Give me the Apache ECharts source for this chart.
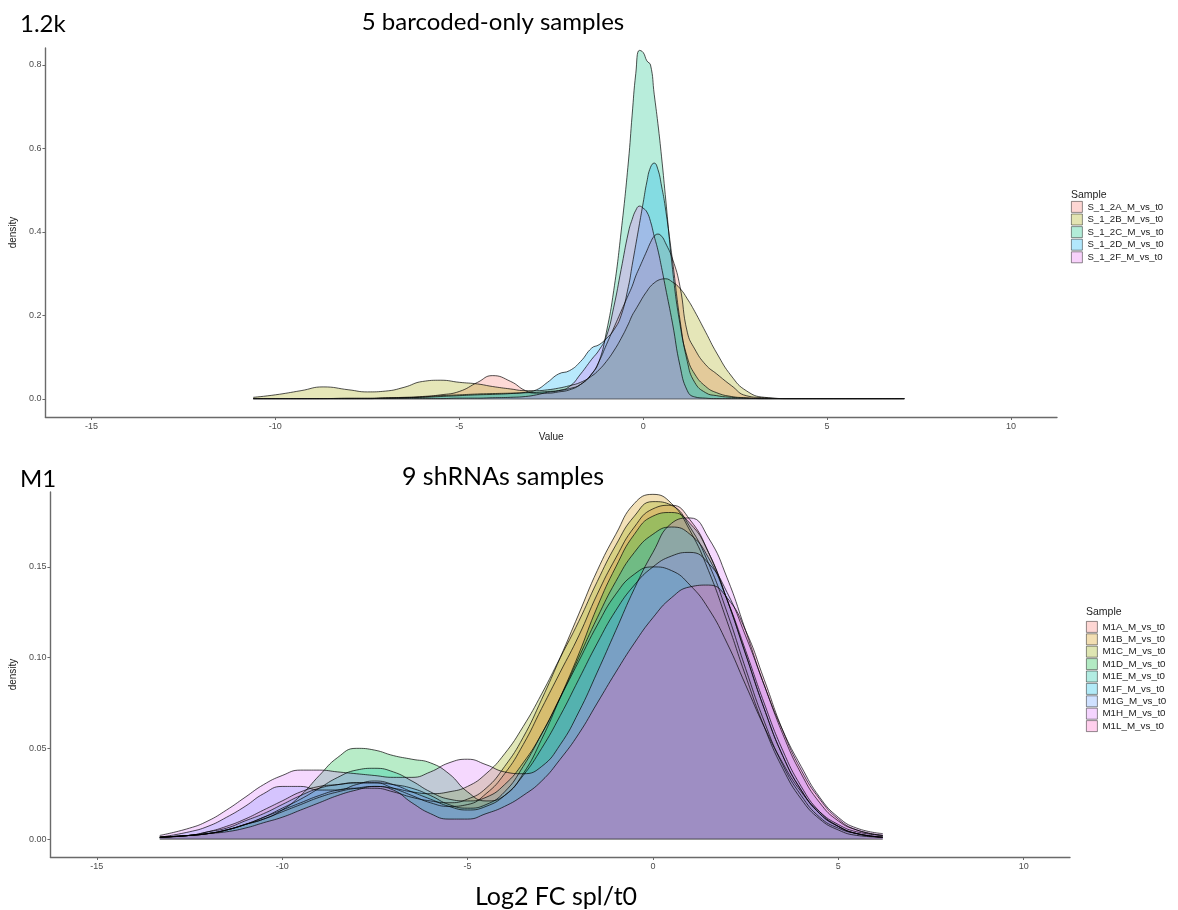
<!DOCTYPE html>
<html>
<head>
<meta charset="utf-8">
<script src="https://cdn.jsdelivr.net/npm/echarts@6/dist/echarts.min.js"></script>
<style>
  html, body { margin: 0; padding: 0; background: #fff; }
  #chart { width: 1178px; height: 910px; }
</style>
</head>
<body>
<div id="chart"></div>
<script>
// ---- Upper panel: 5 barcoded-only samples (density of log2 fold change) ----
const xTop = [-10.6, -10, -9.3, -8.7, -8, -7.5, -7, -6.5, -6, -5.5,
  -5, -4.5, -4.1, -3.6, -3.2, -2.9, -2.6, -2.3, -2, -1.7,
  -1.4, -1.2, -1, -0.8, -0.6, -0.4, -0.3, -0.2, -0.1, 0,
  0.1, 0.2, 0.3, 0.4, 0.5, 0.6, 0.8, 1, 1.2, 1.4,
  1.7, 2, 2.4, 2.8, 3.3, 4, 5, 6, 7.1];

const topNames = ['S_1_2A_M_vs_t0', 'S_1_2B_M_vs_t0', 'S_1_2C_M_vs_t0', 'S_1_2D_M_vs_t0', 'S_1_2F_M_vs_t0'];
const topColors = ['#F8766D', '#A3A500', '#00BF7D', '#00B0F6', '#E76BF3'];

const s12A = [0.001, 0.001, 0.001, 0.001, 0.002, 0.002, 0.003, 0.004, 0.006, 0.010,
  0.018, 0.040, 0.056, 0.042, 0.020, 0.014, 0.014, 0.017, 0.022, 0.035,
  0.060, 0.090, 0.130, 0.170, 0.210, 0.250, 0.270, 0.295, 0.315, 0.335,
  0.355, 0.375, 0.390, 0.395, 0.390, 0.375, 0.335, 0.270, 0.160, 0.120,
  0.082, 0.060, 0.032, 0.008, 0.003, 0.001, 0.001, 0.001, 0.001];
const s12B = [0.004, 0.010, 0.020, 0.029, 0.022, 0.017, 0.019, 0.028, 0.042, 0.045,
  0.040, 0.036, 0.030, 0.024, 0.020, 0.020, 0.022, 0.026, 0.032, 0.040,
  0.055, 0.070, 0.090, 0.115, 0.145, 0.180, 0.200, 0.215, 0.230, 0.245,
  0.258, 0.270, 0.278, 0.284, 0.287, 0.288, 0.280, 0.265, 0.240, 0.210,
  0.160, 0.110, 0.055, 0.020, 0.004, 0.001, 0.001, 0.001, 0.001];
const s12C = [0.001, 0.001, 0.001, 0.001, 0.001, 0.001, 0.002, 0.003, 0.005, 0.008,
  0.010, 0.012, 0.013, 0.014, 0.015, 0.016, 0.018, 0.020, 0.025, 0.035,
  0.060, 0.090, 0.160, 0.260, 0.400, 0.570, 0.680, 0.780, 0.835, 0.830,
  0.810, 0.800, 0.730, 0.660, 0.580, 0.490, 0.310, 0.180, 0.100, 0.060,
  0.030, 0.015, 0.006, 0.003, 0.001, 0.001, 0.001, 0.001, 0.001];
const s12D = [0.001, 0.001, 0.001, 0.001, 0.001, 0.001, 0.002, 0.003, 0.004, 0.006,
  0.008, 0.010, 0.011, 0.013, 0.016, 0.022, 0.040, 0.060, 0.068, 0.090,
  0.122, 0.130, 0.145, 0.165, 0.200, 0.270, 0.320, 0.370, 0.420, 0.470,
  0.520, 0.555, 0.565, 0.550, 0.510, 0.460, 0.330, 0.190, 0.090, 0.040,
  0.015, 0.008, 0.004, 0.002, 0.001, 0.001, 0.001, 0.001, 0.001];
const s12F = [0.001, 0.001, 0.001, 0.001, 0.001, 0.001, 0.001, 0.001, 0.001, 0.001,
  0.002, 0.002, 0.003, 0.004, 0.006, 0.010, 0.016, 0.020, 0.030, 0.060,
  0.095, 0.117, 0.150, 0.220, 0.310, 0.400, 0.430, 0.452, 0.462, 0.457,
  0.448, 0.425, 0.390, 0.357, 0.315, 0.270, 0.180, 0.080, 0.020, 0.005,
  0.002, 0.001, 0.001, 0.001, 0.001, 0.001, 0.001, 0.001, 0.001];
const topSeries = [s12A, s12B, s12C, s12D, s12F];

const topYTicks = [0, 0.2, 0.4, 0.6, 0.8];
const xTicks = [-15, -10, -5, 0, 5, 10];

// ---- Lower panel: 9 shRNA samples ----
const xBot = [-13.3, -12.5, -12, -11.5, -11, -10.5, -10, -9.5, -9, -8.5,
  -8, -7.5, -7, -6.5, -6, -5.5, -5, -4.5, -4, -3.5,
  -3, -2.5, -2, -1.5, -1, -0.5, 0, 0.5, 1, 1.5,
  2, 2.5, 3, 3.5, 4, 4.5, 5, 5.5, 6.2];

const botNames = ['M1A_M_vs_t0', 'M1B_M_vs_t0', 'M1C_M_vs_t0', 'M1D_M_vs_t0', 'M1E_M_vs_t0',
  'M1F_M_vs_t0', 'M1G_M_vs_t0', 'M1H_M_vs_t0', 'M1L_M_vs_t0'];
const botColors = ['#F8766D', '#D39200', '#93AA00', '#00BA38', '#00C19F',
  '#00B9E3', '#619CFF', '#DB72FB', '#FF61C3'];

const m1A = [0.001, 0.002, 0.004, 0.007, 0.011, 0.016, 0.021, 0.026, 0.029, 0.030,
  0.031, 0.031, 0.028, 0.024, 0.020, 0.018, 0.019, 0.025, 0.036, 0.052,
  0.072, 0.092, 0.112, 0.135, 0.155, 0.172, 0.182, 0.184, 0.176, 0.158,
  0.132, 0.102, 0.072, 0.046, 0.027, 0.014, 0.007, 0.003, 0.001];
const m1B = [0.001, 0.002, 0.003, 0.005, 0.008, 0.012, 0.016, 0.020, 0.024, 0.027,
  0.028, 0.028, 0.026, 0.023, 0.021, 0.020, 0.022, 0.028, 0.040, 0.056,
  0.077, 0.100, 0.124, 0.148, 0.168, 0.185, 0.190, 0.185, 0.170, 0.148,
  0.120, 0.090, 0.062, 0.039, 0.022, 0.011, 0.005, 0.002, 0.001];
const m1C = [0.001, 0.002, 0.003, 0.005, 0.008, 0.011, 0.015, 0.019, 0.023, 0.026,
  0.028, 0.029, 0.028, 0.026, 0.025, 0.026, 0.029, 0.036, 0.047, 0.062,
  0.080, 0.100, 0.120, 0.142, 0.162, 0.178, 0.186, 0.184, 0.172, 0.152,
  0.125, 0.094, 0.065, 0.041, 0.024, 0.012, 0.006, 0.003, 0.001];
const m1D = [0.001, 0.002, 0.003, 0.005, 0.008, 0.011, 0.016, 0.024, 0.035, 0.045,
  0.050, 0.049, 0.046, 0.044, 0.042, 0.036, 0.026, 0.021, 0.024, 0.036,
  0.055, 0.078, 0.102, 0.128, 0.150, 0.168, 0.178, 0.180, 0.174, 0.158,
  0.132, 0.102, 0.072, 0.046, 0.027, 0.014, 0.007, 0.003, 0.001];
const m1E = [0.001, 0.002, 0.003, 0.005, 0.008, 0.012, 0.017, 0.022, 0.028, 0.034,
  0.038, 0.039, 0.037, 0.032, 0.026, 0.022, 0.021, 0.023, 0.030, 0.042,
  0.058, 0.078, 0.098, 0.118, 0.135, 0.146, 0.150, 0.148, 0.140, 0.127,
  0.108, 0.085, 0.062, 0.042, 0.026, 0.015, 0.008, 0.004, 0.002];
const m1F = [0.001, 0.002, 0.004, 0.006, 0.010, 0.014, 0.019, 0.024, 0.028, 0.030,
  0.031, 0.031, 0.030, 0.028, 0.024, 0.019, 0.017, 0.019, 0.026, 0.040,
  0.058, 0.078, 0.100, 0.122, 0.142, 0.158, 0.168, 0.172, 0.168, 0.155,
  0.132, 0.104, 0.075, 0.049, 0.029, 0.015, 0.007, 0.003, 0.001];
const m1G = [0.001, 0.004, 0.007, 0.012, 0.018, 0.025, 0.029, 0.029, 0.027, 0.027,
  0.030, 0.032, 0.030, 0.026, 0.022, 0.018, 0.016, 0.018, 0.024, 0.035,
  0.050, 0.068, 0.088, 0.108, 0.126, 0.140, 0.150, 0.156, 0.158, 0.152,
  0.136, 0.112, 0.085, 0.058, 0.036, 0.020, 0.010, 0.005, 0.002];
const m1H = [0.002, 0.006, 0.010, 0.016, 0.023, 0.030, 0.035, 0.038, 0.038, 0.037,
  0.036, 0.035, 0.034, 0.034, 0.037, 0.042, 0.044, 0.041, 0.037, 0.036,
  0.040, 0.052, 0.070, 0.092, 0.115, 0.138, 0.158, 0.174, 0.177, 0.166,
  0.144, 0.115, 0.085, 0.060, 0.040, 0.023, 0.012, 0.006, 0.003];
const m1L = [0.001, 0.002, 0.003, 0.004, 0.006, 0.009, 0.012, 0.016, 0.020, 0.024,
  0.027, 0.029, 0.027, 0.020, 0.014, 0.011, 0.011, 0.014, 0.018, 0.024,
  0.032, 0.044, 0.058, 0.075, 0.092, 0.108, 0.122, 0.133, 0.139, 0.140,
  0.133, 0.115, 0.088, 0.060, 0.038, 0.022, 0.011, 0.005, 0.002];
const botSeries = [m1A, m1B, m1C, m1D, m1E, m1F, m1G, m1H, m1L];

const botYTicks = [0, 0.05, 0.1, 0.15];

// ---- helpers ----
function hexToRgba(hex, a) {
  const n = parseInt(hex.slice(1), 16);
  return 'rgba(' + ((n >> 16) & 255) + ',' + ((n >> 8) & 255) + ',' + (n & 255) + ',' + a + ')';
}
function pairs(xs, ys) { return xs.map((x, i) => [x, ys[i]]); }

const FILL_ALPHA = 0.4;
const OUTLINE = 'rgba(0,0,0,0.68)';
const AXIS_COLOR = '#6a6a6a';
const LABEL_COLOR = '#4d4d4d';
const SANS = '"Liberation Sans", Arial, sans-serif';

function densitySeries(names, colors, values, xs, axisIdx) {
  const out = names.map((name, i) => ({
    type: 'line',
    name: name,
    xAxisIndex: axisIdx,
    yAxisIndex: axisIdx,
    data: pairs(xs, values[i]),
    smooth: 0.5,
    symbol: 'none',
    silent: true,
    itemStyle: { color: colors[i] },
    lineStyle: { color: OUTLINE, width: 1 },
    areaStyle: { color: hexToRgba(colors[i], FILL_ALPHA), origin: 0 }
  }));
  // closing edge of the density polygons along zero
  out.push({
    type: 'line',
    name: 'baseline' + axisIdx,
    xAxisIndex: axisIdx,
    yAxisIndex: axisIdx,
    data: [[xs[0], 0], [xs[xs.length - 1], 0]],
    symbol: 'none',
    silent: true,
    lineStyle: { color: 'rgba(50,50,50,0.7)', width: 1.2 }
  });
  return out;
}

function legendData(names, colors) {
  return names.map((n, i) => ({
    name: n,
    icon: 'rect',
    itemStyle: { color: hexToRgba(colors[i], 0.3), borderColor: 'rgba(0,0,0,0.55)', borderWidth: 0.8 }
  }));
}

function xAxisCfg(gridIndex, name) {
  return {
    type: 'value',
    gridIndex: gridIndex,
    min: -16.25,
    max: 11.25,
    name: name,
    nameLocation: 'middle',
    nameGap: 15,
    nameTextStyle: { color: '#222', fontSize: 10, fontFamily: SANS },
    splitLine: { show: false },
    axisLine: { onZero: false, lineStyle: { color: AXIS_COLOR, width: 1.4 } },
    axisTick: { show: true, length: 3, customValues: xTicks, lineStyle: { color: AXIS_COLOR } },
    axisLabel: { customValues: xTicks, color: LABEL_COLOR, fontSize: 9, fontFamily: SANS, margin: 5 }
  };
}

function yAxisCfg(gridIndex, min, max, ticks, fmt, gap) {
  return {
    type: 'value',
    gridIndex: gridIndex,
    min: min,
    max: max,
    name: 'density',
    nameLocation: 'middle',
    nameRotate: 90,
    nameGap: gap,
    nameTextStyle: { color: '#222', fontSize: 10, fontFamily: SANS },
    splitLine: { show: false },
    axisLine: { onZero: false, lineStyle: { color: AXIS_COLOR, width: 1.4 } },
    axisTick: { show: true, length: 3, customValues: ticks, lineStyle: { color: AXIS_COLOR } },
    axisLabel: { customValues: ticks, color: LABEL_COLOR, fontSize: 9, fontFamily: SANS, margin: 4, formatter: fmt }
  };
}

const BIG = '"Lato", "Open Sans", sans-serif';
function bigText(text, x, y, size, align) {
  return { type: 'text', x: x, y: y, silent: true,
    style: { text: text, fill: '#000', font: size + 'px ' + BIG, textAlign: align || 'left', textVerticalAlign: 'middle' } };
}
function smallText(text, x, y) {
  return { type: 'text', x: x, y: y, silent: true,
    style: { text: text, fill: '#222', font: '10.5px ' + SANS, textAlign: 'left', textVerticalAlign: 'middle' } };
}

const chart = echarts.init(document.getElementById('chart'), null, { renderer: 'canvas' });

chart.setOption({
  animation: false,
  backgroundColor: '#fff',
  grid: [
    { left: 43, right: 121, top: 48, bottom: 493, containLabel: false },
    { left: 48, right: 108, top: 492, bottom: 53, containLabel: false }
  ],
  xAxis: [xAxisCfg(0, 'Value'), xAxisCfg(1, '')],
  yAxis: [
    yAxisCfg(0, -0.0431, 0.8407, topYTicks, v => v.toFixed(1), 24),
    yAxisCfg(1, -0.0099, 0.1913, botYTicks, v => v.toFixed(2), 26)
  ],
  legend: [
    {
      orient: 'vertical', left: 1071, top: 201, padding: 0,
      itemWidth: 11, itemHeight: 11, itemGap: 0.8,
      textStyle: { color: '#222', fontSize: 9.6, fontFamily: SANS },
      selectedMode: false,
      data: legendData(topNames, topColors)
    },
    {
      orient: 'vertical', left: 1086, top: 621, padding: 0,
      itemWidth: 11, itemHeight: 11, itemGap: 0.6,
      textStyle: { color: '#222', fontSize: 9.8, fontFamily: SANS },
      selectedMode: false,
      data: legendData(botNames, botColors)
    }
  ],
  graphic: [
    bigText('1.2k', 20, 24, 24),
    bigText('5 barcoded-only samples', 493, 22, 24, 'center'),
    bigText('M1', 20, 479, 24),
    bigText('9 shRNAs samples', 503, 477, 25, 'center'),
    bigText('Log2 FC spl/t0', 556, 897, 25, 'center'),
    smallText('Sample', 1071, 195),
    smallText('Sample', 1086, 612)
  ],
  series: densitySeries(topNames, topColors, topSeries, xTop, 0)
    .concat(densitySeries(botNames, botColors, botSeries, xBot, 1))
});
</script>
</body>
</html>
